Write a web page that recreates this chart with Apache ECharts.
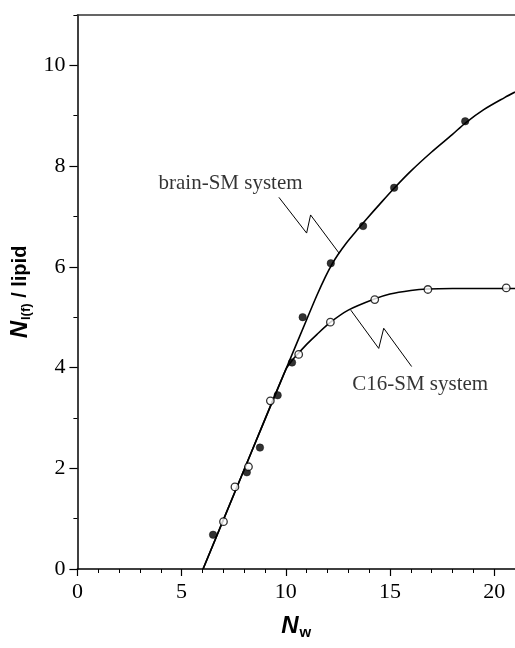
<!DOCTYPE html>
<html><head><meta charset="utf-8">
<script src="https://cdn.jsdelivr.net/npm/echarts@6/dist/echarts.min.js"></script>
<style>html,body{margin:0;padding:0;background:#fff}#c{width:515px;height:648px}</style>
</head><body><div id="c"></div>
<script>
// measured points
const brainX = [6.51, 8.13, 8.76, 9.61, 10.30, 10.81, 12.16, 13.71, 15.20, 18.61];
const brainY = [0.68, 1.92, 2.41, 3.45, 4.10, 5.00, 6.07, 6.81, 7.57, 8.89];
const c16X = [7.01, 7.56, 8.21, 9.26, 10.62, 12.14, 14.27, 16.82, 20.58];
const c16Y = [0.94, 1.63, 2.03, 3.34, 4.26, 4.90, 5.35, 5.55, 5.58];
// fitted curves
const brainFitX = [6.03, 8.0, 10.0, 11.0, 11.5, 11.9, 12.2, 12.5, 12.9, 13.4, 13.9, 14.5, 15.2, 16.0, 17.0, 18.0, 18.6, 19.5, 20.5, 21.0];
const brainFitY = [0, 1.97, 3.96, 4.95, 5.44, 5.80, 6.04, 6.24, 6.47, 6.72, 6.96, 7.24, 7.56, 7.90, 8.28, 8.63, 8.85, 9.12, 9.36, 9.47];
const c16FitX = [6.03, 8.0, 10.0, 10.3, 10.6, 11.0, 11.5, 12.15, 13.0, 14.25, 15.0, 16.0, 16.8, 18.0, 19.0, 20.0, 21.0];
const c16FitY = [0, 1.97, 3.96, 4.14, 4.28, 4.46, 4.66, 4.90, 5.14, 5.36, 5.46, 5.53, 5.56, 5.57, 5.57, 5.57, 5.57];
// callouts (zigzag leader lines) and their texts
const brainCalloutX = [9.67, 11.0, 11.19, 12.56];
const brainCalloutY = [7.38, 6.67, 7.03, 6.27];
const c16CalloutX = [13.12, 14.46, 14.70, 16.04];
const c16CalloutY = [5.14, 4.38, 4.78, 4.02];
const labelTexts = ['brain-SM system', 'C16-SM system'];
const labelX = [7.35, 16.45];
const labelY = [7.65, 3.66];
// ticks
const xTicks = [0, 5, 10, 15, 20];
const yTicks = [0, 2, 4, 6, 8, 10];
const xMax = 21, yMax = 11;

const zip = (a, b) => a.map((v, i) => [v, b[i]]);
const serif = 'Liberation Serif, Times New Roman, serif';
const sans = 'Liberation Sans, Arial, sans-serif';
const ink = '#000';

const chart = echarts.init(document.getElementById('c'), null, {renderer: 'canvas'});
const baseAxis = {type: 'value', min: 0, splitLine: {show: false}};
chart.setOption({
  animation: false,
  backgroundColor: '#fff',
  grid: {left: 77, top: 15, right: -7, bottom: 79, containLabel: false},
  xAxis: [
    Object.assign({}, baseAxis, {
      max: xMax, position: 'bottom', interval: 5,
      axisLine: {onZero: false, lineStyle: {color: ink, width: 1.5}},
      axisTick: {show: true, inside: false, length: 7, customValues: xTicks, lineStyle: {color: ink, width: 1.2}},
      axisLabel: {customValues: xTicks, margin: 12, color: '#000', fontFamily: serif, fontSize: 22},
      name: '{n|N}{s|w}', nameLocation: 'middle', nameGap: 44,
      nameTextStyle: {rich: {
        n: {fontFamily: sans, fontWeight: 'bold', fontStyle: 'italic', fontSize: 24, color: '#000'},
        s: {fontFamily: sans, fontWeight: 'bold', fontSize: 15, color: '#000', padding: [12, 0, 0, 1]}
      }}
    }),
    Object.assign({}, baseAxis, {
      max: xMax, position: 'bottom', interval: 1,
      axisLine: {show: false, onZero: false},
      axisTick: {show: true, inside: false, length: 4, lineStyle: {color: ink, width: 1}},
      axisLabel: {show: false}
    }),
    Object.assign({}, baseAxis, {
      max: xMax, position: 'top',
      axisLine: {show: true, onZero: false, lineStyle: {color: '#333', width: 1.5}},
      axisTick: {show: false}, axisLabel: {show: false}
    })
  ],
  yAxis: [
    Object.assign({}, baseAxis, {
      max: yMax, position: 'left', interval: 2,
      axisLine: {onZero: false, lineStyle: {color: ink, width: 1.5}},
      axisTick: {show: true, inside: false, length: 8, customValues: yTicks, lineStyle: {color: ink, width: 1.2}},
      axisLabel: {customValues: yTicks, margin: 12, color: '#000', fontFamily: serif, fontSize: 22},
      name: '{n|N}{s|l(f)}{t| / lipid}', nameLocation: 'middle', nameGap: 44,
      nameTextStyle: {rich: {
        n: {fontFamily: sans, fontWeight: 'bold', fontStyle: 'italic', fontSize: 24, color: '#000'},
        s: {fontFamily: sans, fontWeight: 'bold', fontSize: 13, color: '#000', padding: [12, 0, 0, 1]},
        t: {fontFamily: sans, fontWeight: 'bold', fontSize: 20, color: '#000'}
      }}
    }),
    Object.assign({}, baseAxis, {
      max: yMax, position: 'left', interval: 1,
      axisLine: {show: false, onZero: false},
      axisTick: {show: true, inside: false, length: 4, lineStyle: {color: ink, width: 1}},
      axisLabel: {show: false}
    })
  ],
  series: [
    {type: 'line', name: 'brain fit', data: zip(brainFitX, brainFitY), smooth: 0.3, showSymbol: false,
     lineStyle: {color: ink, width: 1.6}, z: 2},
    {type: 'line', name: 'C16 fit', data: zip(c16FitX, c16FitY), smooth: 0.25, showSymbol: false,
     lineStyle: {color: ink, width: 1.6}, z: 2},
    {type: 'line', name: 'brain callout', data: zip(brainCalloutX, brainCalloutY), showSymbol: false,
     lineStyle: {color: ink, width: 1}, z: 2},
    {type: 'line', name: 'C16 callout', data: zip(c16CalloutX, c16CalloutY), showSymbol: false,
     lineStyle: {color: ink, width: 1}, z: 2},
    {type: 'scatter', name: 'brain-SM', data: zip(brainX, brainY), symbol: 'circle', symbolSize: 7.5,
     itemStyle: {color: '#000', borderColor: '#000', borderWidth: 0.5}, z: 5},
    {type: 'scatter', name: 'C16-SM', data: zip(c16X, c16Y), symbol: 'circle', symbolSize: 7.5,
     itemStyle: {color: '#fff', borderColor: '#000', borderWidth: 1.3}, z: 5},
    {type: 'scatter', name: 'labels', symbolSize: 0, silent: true, z: 6,
     data: labelTexts.map((t, i) => ({value: [labelX[i], labelY[i]], name: t})),
     label: {show: true, position: 'inside', formatter: p => p.name,
             fontFamily: serif, fontSize: 21, color: '#000'}}
  ]
});
</script>
</body></html>
